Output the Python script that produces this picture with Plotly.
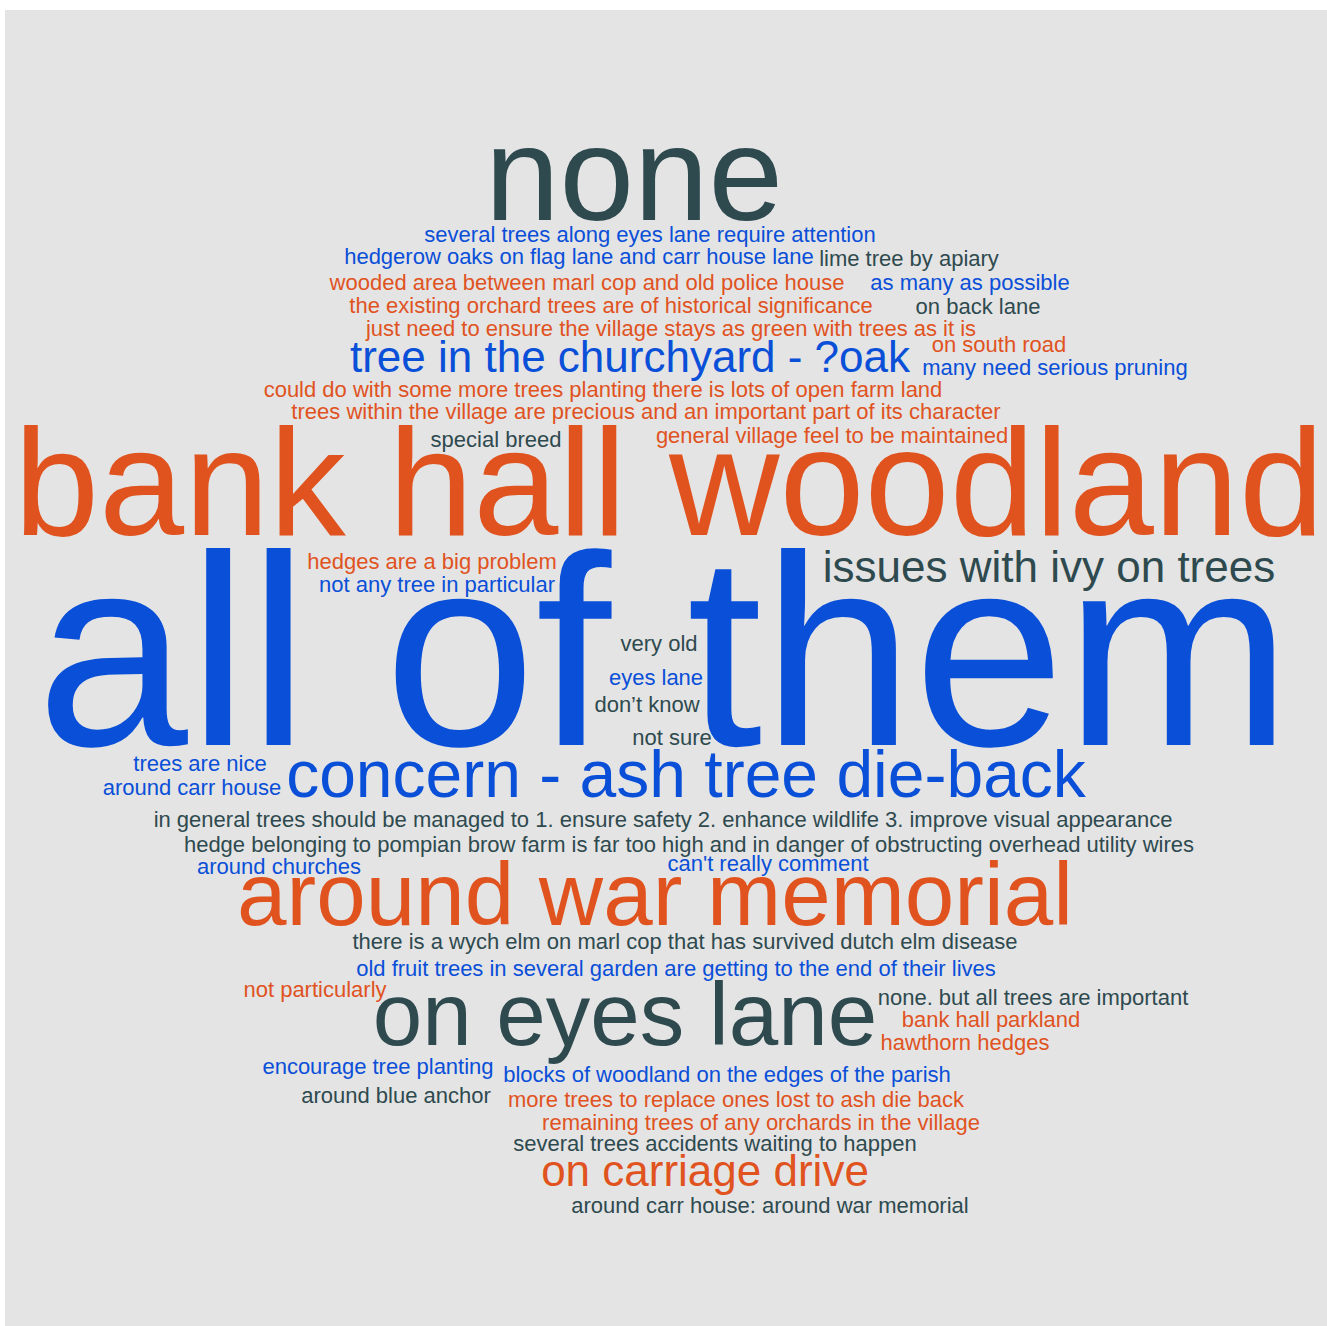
import plotly.graph_objects as go

# ---- data: phrases, weights (font size in px), colour group ----
phrases = [
    "none",
    "several trees along eyes lane require attention",
    "hedgerow oaks on flag lane and carr house lane",
    "lime tree by apiary",
    "wooded area between marl cop and old police house",
    "as many as possible",
    "the existing orchard trees are of historical significance",
    "on back lane",
    "just need to ensure the village stays as green with trees as it is",
    "on south road",
    "tree in the churchyard - ?oak",
    "many need serious pruning",
    "could do with some more trees planting there is lots of open farm land",
    "trees within the village are precious and an important part of its character",
    "special breed",
    "general village feel to be maintained",
    "bank hall woodland",
    "hedges are a big problem",
    "not any tree in particular",
    "issues with ivy on trees",
    "all of them",
    "very old",
    "eyes lane",
    "don\u2019t know",
    "not sure",
    "trees are nice",
    "around carr house",
    "concern - ash tree die-back",
    "in general trees should be managed to 1. ensure safety 2. enhance wildlife 3. improve visual appearance",
    "hedge belonging to pompian brow farm is far too high and in danger of obstructing overhead utility wires",
    "around churches",
    "can't really comment",
    "around war memorial",
    "there is a wych elm on marl cop that has survived dutch elm disease",
    "old fruit trees in several garden are getting to the end of their lives",
    "not particularly",
    "on eyes lane",
    "none. but all trees are important",
    "bank hall parkland",
    "hawthorn hedges",
    "encourage tree planting",
    "blocks of woodland on the edges of the parish",
    "around blue anchor",
    "more trees to replace ones lost to ash die back",
    "remaining trees of any orchards in the village",
    "several trees accidents waiting to happen",
    "on carriage drive",
    "around carr house: around war memorial",
]

weights = [
    134, 22, 22, 22, 22, 22, 22, 22, 22, 22,
    44, 22, 22, 22, 22, 22, 153, 22, 22, 44,
    272, 22, 22, 22, 22, 22, 22, 66, 22, 22,
    22, 22, 89, 22, 22, 22, 89, 22, 22, 22,
    22, 22, 22, 22, 22, 22, 44, 22,
]

groups = [
    "s", "b", "b", "s", "o", "b", "o", "s", "o", "o",
    "b", "b", "o", "o", "s", "o", "o", "o", "b", "s",
    "b", "s", "b", "s", "s", "b", "b", "b", "s", "s",
    "b", "b", "o", "s", "b", "o", "s", "s", "o", "o",
    "b", "b", "s", "o", "o", "s", "o", "s",
]

# ---- layout of the cloud (pixel-like coordinates: centre x, text baseline) ----
cx = [
    634, 650, 579, 909, 587, 970, 611, 978, 671, 999,
    630, 1055, 603, 646, 496, 832, 669, 432, 437, 1049,
    664, 659, 656, 647, 672, 200, 192, 686, 663, 689,
    279, 768, 655, 685, 676, 315, 625, 1033, 991, 965,
    378, 727, 396, 736, 761, 715, 705, 770,
]
baseline = [
    220, 242, 264, 266, 290, 290, 313, 314, 336, 352,
    372, 375, 397, 419, 447, 443, 535, 569, 592, 582,
    745, 651, 685, 712, 745, 771, 795, 797, 827, 852,
    874, 871, 925, 949, 976, 997, 1045, 1005, 1027, 1050,
    1074, 1082, 1103, 1107, 1130, 1151, 1186, 1213,
]

palette = {"s": "#2E4A4F", "o": "#E0531F", "b": "#0A4FD8"}
colors = [palette[g] for g in groups]
ypos = [b - 0.25 * w for b, w in zip(baseline, weights)]

fig = go.Figure(
    go.Scatter(
        x=cx,
        y=ypos,
        mode="text",
        text=phrases,
        textposition="middle center",
        textfont=dict(family="Liberation Sans, Arial, sans-serif", size=weights, color=colors),
        cliponaxis=False,
        hoverinfo="skip",
    )
)

fig.update_layout(
    width=1327,
    height=1326,
    margin=dict(l=5, r=0, t=10, b=0),
    paper_bgcolor="white",
    plot_bgcolor="#E4E4E4",
    showlegend=False,
    hovermode=False,
    xaxis=dict(range=[5, 1327], visible=False, fixedrange=True),
    yaxis=dict(range=[1326, 10], visible=False, fixedrange=True),
)

fig.write_html(
    "out.html",
    config={"displayModeBar": False, "staticPlot": True},
    post_script="document.body.style.margin='0';document.body.style.overflow='hidden';",
)
